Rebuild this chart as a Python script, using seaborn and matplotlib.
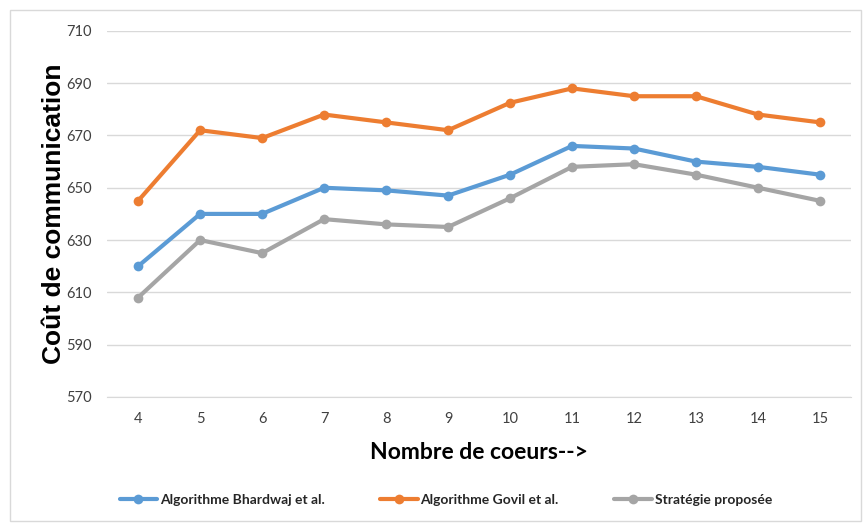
import matplotlib
matplotlib.use("Agg")
import matplotlib.pyplot as plt
import matplotlib.patches as mpatches
import seaborn as sns
import pandas as pd

cores = [4, 5, 6, 7, 8, 9, 10, 11, 12, 13, 14, 15]
bhardwaj = [620, 640, 640, 650, 649, 647, 655, 666, 665, 660, 658, 655]
govil = [645, 672, 669, 678, 675, 672, 682.5, 688, 685, 685, 678, 675]
proposee = [608, 630, 625, 638, 636, 635, 646, 658, 659, 655, 650, 645]
series_names = ["Algorithme Bhardwaj et al.", "Algorithme Govil et al.", "Stratégie proposée"]
yticks = [570, 590, 610, 630, 650, 670, 690, 710]

df = pd.DataFrame({
    "cores": cores * 3,
    "cout": bhardwaj + govil + proposee,
    "serie": [series_names[0]] * 12 + [series_names[1]] * 12 + [series_names[2]] * 12,
})

sns.set_style("white")
plt.rcParams['font.family'] = ['Lato', 'DejaVu Sans']
palette = {series_names[0]: "#5B9BD5", series_names[1]: "#ED7D31", series_names[2]: "#A5A5A5"}

fig = plt.figure(figsize=(8.64, 5.23), dpi=100)
ax = fig.add_axes([0.124, 0.241, 0.861, 0.700])

sns.lineplot(data=df, x="cores", y="cout", hue="serie", palette=palette,
             marker="o", markersize=7, markeredgewidth=0, linewidth=3, ax=ax, legend=True)

ax.set_xlim(3.5, 15.5)
ax.set_ylim(570, 710)
ax.set_yticks(yticks)
ax.set_xticks(cores)
ax.grid(axis="y", color="#D9D9D9", linewidth=1)
for s in ax.spines.values():
    s.set_visible(False)
ax.spines["bottom"].set_visible(True)
ax.spines["bottom"].set_color("#D9D9D9")
ax.tick_params(axis="both", length=0, labelsize=10.5, colors="#404040", pad=11)

ax.set_ylabel("Coût de communication", fontsize=19, fontweight="bold",
              family=["Liberation Sans", "DejaVu Sans"], color="black", labelpad=0)
ax.set_xlabel("Nombre de coeurs-->", fontsize=16.5, fontweight="bold", color="black", labelpad=11)

handles, labels = ax.get_legend_handles_labels()
ax.get_legend().remove()
fig.legend(handles, labels, loc="center", bbox_to_anchor=(0.516, 0.044), ncol=3, frameon=False,
           prop={"size": 10, "weight": "bold"}, handlelength=2.7, columnspacing=4, handletextpad=0.2)

fig.patches.append(mpatches.Rectangle((0.012, 0.004), 0.985, 0.976, transform=fig.transFigure,
                                      fill=False, edgecolor="#D9D9D9", linewidth=1))

fig.savefig("out.png", dpi=100)
